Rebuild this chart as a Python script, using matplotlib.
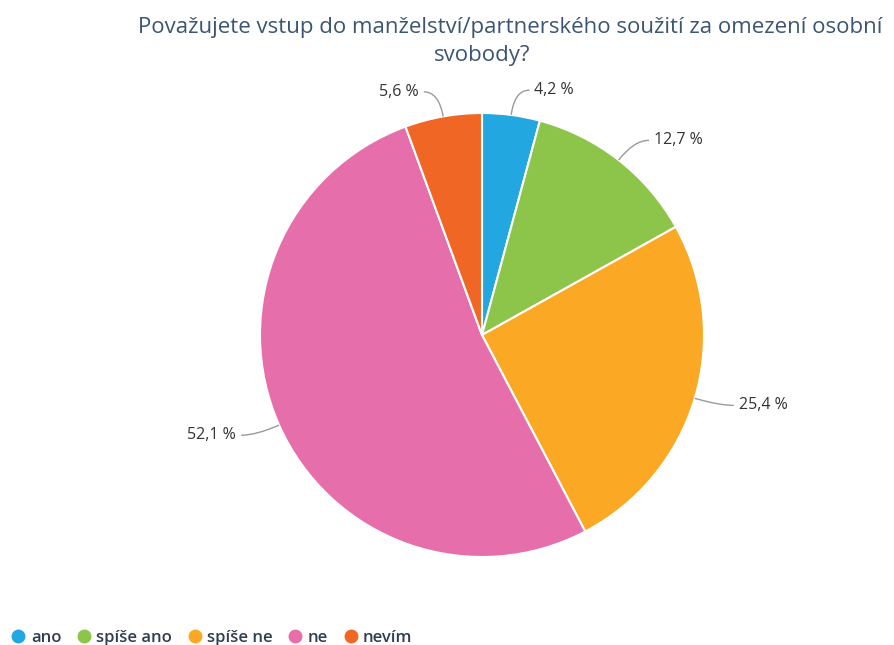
import numpy as np
import matplotlib
matplotlib.use("Agg")
import matplotlib.pyplot as plt
from matplotlib.lines import Line2D
from matplotlib.path import Path
from matplotlib.patches import PathPatch

# Survey answers and their shares (%)
categories = ["ano", "spíše ano", "spíše ne", "ne", "nevím"]
values = [4.2, 12.7, 25.4, 52.1, 5.6]
colors = ["#22a7e0", "#8cc54a", "#fba924", "#e66eab", "#f06624"]
title_line1 = "Považujete vstup do manželství/partnerského soužití za omezení osobní"
title_line2 = "svobody?"

W, H = 894, 645
fig = plt.figure(figsize=(W / 100, H / 100), dpi=100)
ax = fig.add_axes([0, 0, 1, 1])

cx, cy, r = 482, H - 335, 222

wedges, _ = ax.pie(values, colors=colors, startangle=90, counterclock=False,
                   center=(cx, cy), radius=r, frame=True,
                   wedgeprops=dict(edgecolor="white", linewidth=1.5))
ax.set_xlim(0, W)
ax.set_ylim(0, H)
ax.set_aspect("equal")
ax.axis("off")

label_font = dict(fontsize=11.5, color="#333333", family="Open Sans")

for w, v in zip(wedges, values):
    mid = np.deg2rad((w.theta1 + w.theta2) / 2)
    ux, uy = np.cos(mid), np.sin(mid)
    p0 = (cx + r * ux, cy + r * uy)
    p1 = (cx + (r + 25) * ux, cy + (r + 25) * uy)
    side = 1 if ux >= 0 else -1
    p2 = (p1[0] + side * 15, p1[1])
    path = Path([p0, p1, p2], [Path.MOVETO, Path.CURVE3, Path.CURVE3])
    ax.add_patch(PathPatch(path, fill=False, edgecolor="#9a9a9a", lw=1.0))
    txt = f"{v:.1f}".replace(".", ",") + " %"
    ax.text(p2[0] + side * 5, p2[1], txt, ha="left" if side > 0 else "right",
            va="center", **label_font)

title_kw = dict(fontsize=16, color="#3b5573", family="Open Sans", ha="center", va="center")
fig.text(510 / W, 1 - 27 / H, title_line1, **title_kw)
fig.text(482 / W, 1 - 56 / H, title_line2, **title_kw)

handles = [Line2D([], [], marker="o", linestyle="none", markersize=9,
                  markerfacecolor=c, markeredgecolor=c) for c in colors]
fig.legend(handles, categories, loc="lower left", bbox_to_anchor=(0.0, -0.02),
           ncol=5, frameon=False, handlelength=0.8, handletextpad=0.35,
           columnspacing=0.95, borderaxespad=0.3,
           prop=dict(family="Open Sans", size=12, weight="semibold"),
           labelcolor="#2f3e52")

fig.savefig("out.png", dpi=100)
